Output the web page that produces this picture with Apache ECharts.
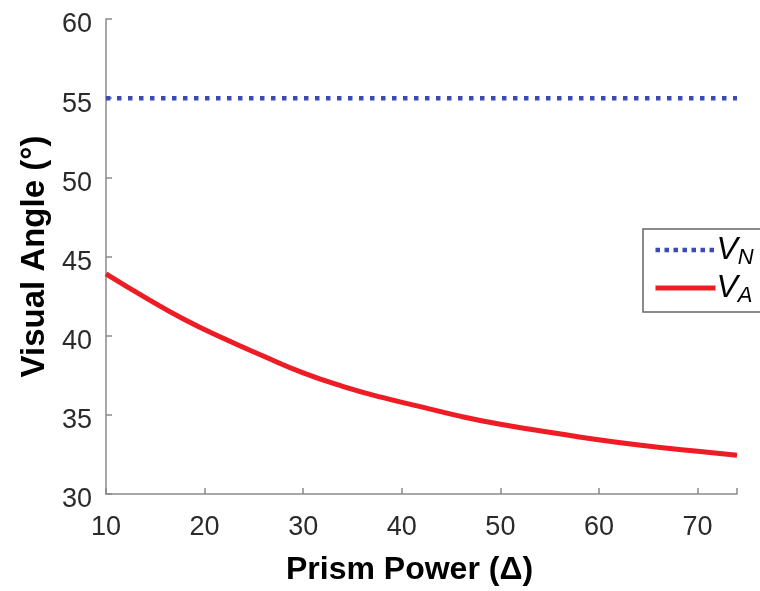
<!DOCTYPE html>
<html>
<head>
<meta charset="utf-8">
<script src="https://cdn.jsdelivr.net/npm/echarts@6/dist/echarts.min.js"></script>
<style>html,body{margin:0;padding:0;background:#fff;}#c{width:760px;height:591px;}</style>
</head>
<body>
<div id="c"></div>
<script>
var prismPower = [10, 14, 18, 22, 26, 30, 34, 38, 42, 46, 50, 54, 58, 62, 66, 70, 74];
var vA = [43.9, 42.4, 41.0, 39.8, 38.7, 37.65, 36.8, 36.1, 35.5, 34.9, 34.4, 34.0, 33.6, 33.25, 32.95, 32.7, 32.45];
var vNValue = 55;
var vN = prismPower.map(function () { return vNValue; });
var xTicks = [10, 20, 30, 40, 50, 60, 70];
var yTicks = [30, 35, 40, 45, 50, 55, 60];

var font = 'Liberation Sans, Arial, Helvetica, sans-serif';
var chart = echarts.init(document.getElementById('c'), null, {renderer: 'canvas'});
function pairs(xs, ys) { return xs.map(function (x, i) { return [x, ys[i]]; }); }
var blue = '#3b4bb3', red = '#ee1c25';
var legendRich = {
  v: {fontFamily: font, fontStyle: 'italic', fontSize: 32, color: '#000'},
  s: {fontFamily: font, fontStyle: 'italic', fontSize: 22, color: '#000', verticalAlign: 'bottom', padding: [16, 0, 0, 0]}
};
chart.setOption({
  animation: false,
  backgroundColor: '#fff',
  grid: {left: 106, right: 23, top: 19, bottom: 95, containLabel: false},
  xAxis: {
    type: 'value', min: 10, max: 74, interval: 10,
    name: 'Prism Power (\u0394)', nameLocation: 'middle', nameGap: 60,
    nameTextStyle: {fontFamily: font, fontSize: 32, fontWeight: 'bold', color: '#000', padding: [0, 24, 0, 0]},
    axisLine: {show: true, lineStyle: {color: '#8a8a8a', width: 1.5}},
    axisTick: {show: true, inside: true, length: 6, lineStyle: {color: '#8a8a8a', width: 1.5}},
    axisLabel: {fontFamily: font, fontSize: 27, color: '#2a2a2a', margin: 20,
      formatter: function (v) { return xTicks.indexOf(v) >= 0 ? String(v) : ''; }},
    splitLine: {show: false}
  },
  yAxis: {
    type: 'value', min: 30, max: 60, interval: 5,
    name: 'Visual Angle (\u00b0)', nameLocation: 'middle', nameGap: 55, nameRotate: 90,
    nameTextStyle: {fontFamily: font, fontSize: 33, fontWeight: 'bold', color: '#000'},
    axisLine: {show: true, lineStyle: {color: '#8a8a8a', width: 1.5}},
    axisTick: {show: true, inside: true, length: 6, lineStyle: {color: '#8a8a8a', width: 1.5}},
    axisLabel: {fontFamily: font, fontSize: 27, color: '#2a2a2a', margin: 14,
      verticalAlign: 'top', lineHeight: 12,
      formatter: function (v) { return yTicks.indexOf(v) >= 0 ? String(v) : ''; }},
    splitLine: {show: false}
  },
  legend: {
    orient: 'vertical', left: 643, top: 229,
    itemWidth: 60, itemHeight: 12, itemGap: 3,
    padding: [5, 30, 5, 10],
    borderColor: '#666', borderWidth: 1.5, borderRadius: 0, backgroundColor: '#fff',
    itemStyle: {opacity: 0},
    data: [
      {name: 'VN', itemStyle: {opacity: 0}, lineStyle: {color: blue, width: 4.5, type: [4.5, 4.5], cap: 'butt'}},
      {name: 'VA', itemStyle: {opacity: 0}, lineStyle: {color: red, width: 5, type: 'solid'}}
    ],
    formatter: function (name) {
      return name === 'VN' ? '{v|V}{s|N}' : '{v|V}{s|A}';
    },
    textStyle: {rich: legendRich, padding: [0, 0, 0, -4]}
  },
  series: [
    {
      name: 'VN', type: 'line', data: pairs(prismPower, vN), showSymbol: false, symbol: 'none',
      lineStyle: {color: blue, width: 4.5, type: [4.5, 6.5], cap: 'butt'},
      itemStyle: {color: blue}
    },
    {
      name: 'VA', type: 'line', data: pairs(prismPower, vA), showSymbol: false, symbol: 'none',
      smooth: 0.5,
      lineStyle: {color: red, width: 5},
      itemStyle: {color: red}
    }
  ]
});
</script>
</body>
</html>
